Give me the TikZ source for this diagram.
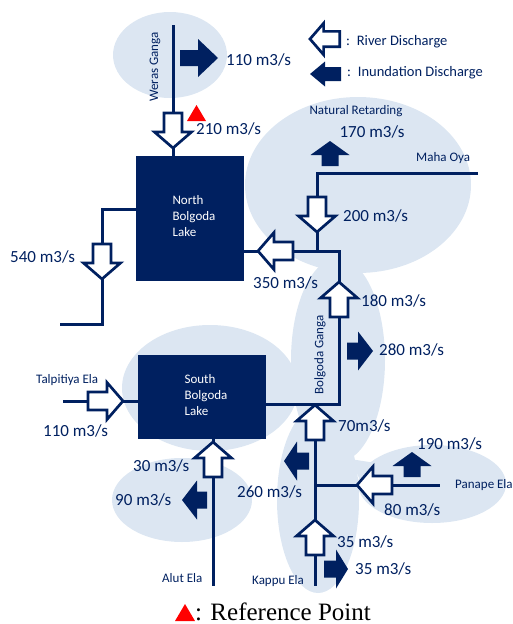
\documentclass[tikz,border=0pt]{standalone}
\usepackage{fontspec}
\setmainfont{Carlito}
\newfontfamily\refserif{Liberation Serif}
\definecolor{navy}{RGB}{0,32,96}
\definecolor{blobc}{RGB}{220,230,242}
\tikzset{
  flow/.style={draw=navy, line width=3pt, line join=miter},
  oarr/.style={draw=navy, fill=white, line width=2.7pt, line join=miter},
  lake/.style={fill=navy, draw=none, inner sep=0pt},
  boxtxt/.style={text=white, align=left, font=\fontsize{13}{16}\selectfont, inner sep=0pt},
  num/.style={text=navy, font=\fontsize{17}{17}\selectfont, anchor=west, inner sep=0pt},
  lbl/.style={text=navy, font=\fontsize{13}{13}\selectfont, inner sep=0pt},
  legtxt/.style={text=navy, font=\fontsize{14.5}{14.5}\selectfont, anchor=west, inner sep=0pt},
  bg/.style={fill=blobc, draw=none}
}
% open arrow: tip x, tip y, angle, scale
\newcommand{\OArrow}[4]{\draw[oarr, shift={(#1,#2)}, rotate=#3, scale=#4] (0,0) -- (-16,-18.5) -- (-16,-9) -- (-35,-9) -- (-35,9) -- (-16,9) -- (-16,18.5) -- cycle;}
% filled arrow: tip x, tip y, angle, head length, body length, head half width, body half width
\newcommand{\FArrow}[7]{\fill[navy, shift={(#1,#2)}, rotate=#3] (0,0) -- (-#4,-#6) -- (-#4,-#7) -- ({-#4-#5},-#7) -- ({-#4-#5},#7) -- (-#4,#7) -- (-#4,#6) -- cycle;}
\begin{document}
\begin{tikzpicture}[x=1pt,y=-1pt]
\useasboundingbox (0,0) rectangle (512,624);
% background blobs
\fill[bg] (170,55) ellipse [x radius=57, y radius=43];
\fill[bg] (358,185) ellipse [x radius=113, y radius=88];
\fill[bg] (338,360) ellipse [x radius=47, y radius=102];
\fill[bg] (210,388) ellipse [x radius=88, y radius=63];
\fill[bg] (182,500) ellipse [x radius=70, y radius=42];
\fill[bg] (318,500) ellipse [x radius=41, y radius=93];
\fill[bg] (432,484) ellipse [x radius=74, y radius=39];
\fill[bg] (350,459) -- (395,466) -- (372,505) -- cycle;
% lakes
\node[lake, minimum width=108pt, minimum height=125pt] (north) at (190,218.5) {};
\node[lake, minimum width=128pt, minimum height=84pt] (south) at (202,397) {};
\node[boxtxt] (ntext) at (194,216) {North\\Bolgoda\\Lake};
\node[boxtxt] (stext) at (206,395) {South\\Bolgoda\\Lake};
% coordinates
\coordinate (wtop) at (173,25);
\coordinate (nw) at (136,209);
\coordinate (o1) at (102,209);
\coordinate (o2) at (102,324);
\coordinate (o3) at (60,324);
\coordinate (ne) at (244,251);
\coordinate (j1) at (339,251);
\coordinate (j2) at (339,404);
\coordinate (se) at (266,404);
\coordinate (m1) at (478,173);
\coordinate (m2) at (317,173);
\coordinate (m3) at (317,251);
\coordinate (k1) at (315,404);
\coordinate (k2) at (315,586);
\coordinate (p1) at (315,485);
\coordinate (p2) at (440,485);
\coordinate (a1) at (213,439);
\coordinate (a2) at (213,586);
\coordinate (t1) at (63,401);
\coordinate (t2) at (138,401);
% river lines
\draw[flow] (wtop) -- (wtop |- north.north);
\draw[flow] (nw) -- (o1) -- (o2) -- (o3);
\draw[flow] (ne) -- (j1) -- (j2) -- (se);
\draw[flow] (m1) -- (m2) -- (m3);
\draw[flow] (k1) -- (k2);
\draw[flow] (p1) -- (p2);
\draw[flow] (a1) -- (a2);
\draw[flow] (t1) -- (t2);
% river discharge arrows
\OArrow{173}{148}{-90}{1}
\OArrow{317}{232}{-90}{1}
\OArrow{258}{251}{180}{1}
\OArrow{339}{282}{90}{1}
\OArrow{315}{405}{90}{1}
\OArrow{357}{485}{180}{1}
\OArrow{315}{520}{90}{1}
\OArrow{213}{442}{90}{1}
\OArrow{123}{401}{0}{1}
\OArrow{102}{279}{-90}{1}
% inundation arrows
\FArrow{218}{58}{0}{20}{18}{19}{8}
\FArrow{330}{141}{90}{14}{11}{19.5}{8.5}
\FArrow{373}{351}{0}{15}{11}{19.5}{8.5}
\FArrow{412}{452}{90}{14}{11}{19.5}{8.5}
\FArrow{284}{461}{180}{13}{12}{19.5}{8.5}
\FArrow{182}{500}{180}{15}{10}{19.5}{8.5}
\FArrow{348}{569}{0}{12}{12}{19.5}{8.5}
% legend
\OArrow{310}{39}{180}{0.85}
\FArrow{310}{74}{180}{15}{16}{12.5}{7}
\node[legtxt] (leg1) at (346,42) {:\, River Discharge};
\node[legtxt] (leg2) at (347,73) {:\, Inundation Discharge};
% reference point
\fill[red] (187,121) -- (206,121) -- (196.5,105) -- cycle;
% labels
\node[lbl, rotate=90] (weras) at (155,67) {Weras Ganga};
\node[num] (q110) at (226,60) {110 m3/s};
\node[num] (q210) at (196,129) {210 m3/s};
\node[lbl] (natret) at (356,111) {Natural Retarding};
\node[num, anchor=center] (q170) at (372,132) {170 m3/s};
\node[lbl, anchor=west] (maha) at (416,158) {Maha Oya};
\node[num] (q200) at (343,216) {200 m3/s};
\node[num] (q350) at (253,283) {350 m3/s};
\node[num] (q180) at (361,301) {180 m3/s};
\node[num] (q280) at (379,350) {280 m3/s};
\node[lbl, rotate=90] (bolg) at (320,355) {Bolgoda Ganga};
\node[num] (q70) at (338,426) {70m3/s};
\node[num] (q190) at (417,444) {190 m3/s};
\node[lbl, anchor=west] (panape) at (455,485) {Panape Ela};
\node[num] (q80) at (384,510) {80 m3/s};
\node[num] (q260) at (237,492) {260 m3/s};
\node[num] (q30) at (133,466) {30 m3/s};
\node[num] (q90) at (115,500) {90 m3/s};
\node[num] (q35a) at (337,542) {35 m3/s};
\node[num] (q35b) at (355,569) {35 m3/s};
\node[lbl, anchor=west] (kappu) at (252,581) {Kappu Ela};
\node[lbl, anchor=west] (alut) at (162,578) {Alut Ela};
\node[lbl, anchor=west] (talp) at (36,380) {Talpitiya Ela};
\node[num] (q110t) at (43,431) {110 m3/s};
\node[num] (q540) at (10,257) {540 m3/s};
% bottom legend
\fill[red] (175,621) -- (195,621) -- (185,604) -- cycle;
\node[anchor=base west, inner sep=0pt, font=\refserif\fontsize{25}{25}\selectfont] (reftxt) at (195,620) {: Reference Point};
\end{tikzpicture}
\end{document}
